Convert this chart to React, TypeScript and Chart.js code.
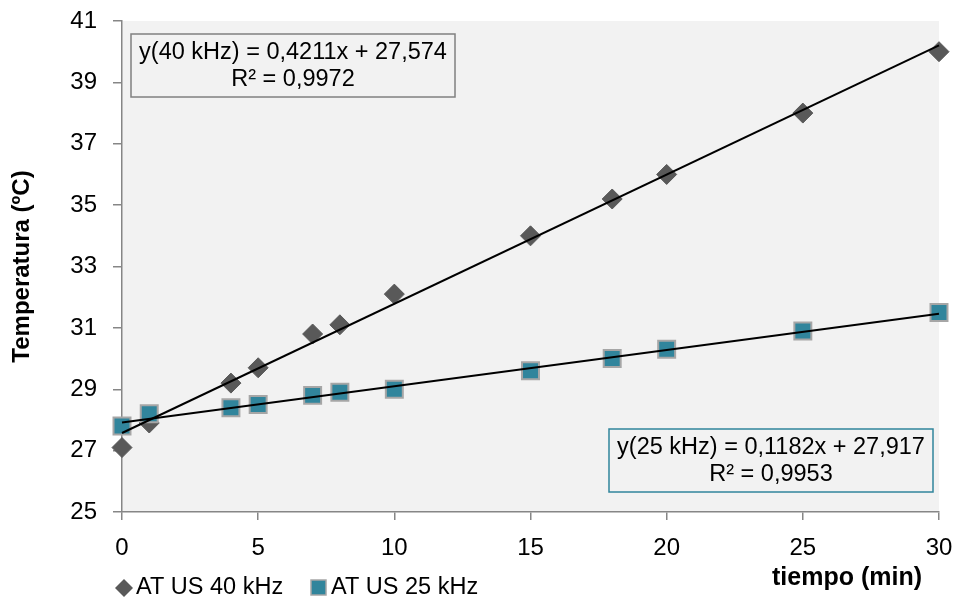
import React, { useEffect, useRef } from "react";
import { Chart, registerables } from "chart.js";

Chart.register(...registerables);

const times = [0, 1, 4, 5, 7, 8, 10, 15, 18, 20, 25, 30];
const temp40 = [27.1, 27.9, 29.2, 29.7, 30.8, 31.1, 32.1, 34.0, 35.2, 36.0, 38.0, 40.0];
const temp25 = [27.8, 28.2, 28.4, 28.5, 28.8, 28.9, 29.0, 29.6, 30.0, 30.3, 30.9, 31.5];
const seriesNames = ["AT US 40 kHz", "AT US 25 kHz"];
const trendSlopes = [0.4211, 0.1182];
const trendIntercepts = [27.574, 27.917];
const trendRange = [0, 30];
const equationLines = [
  ["y(40 kHz) = 0,4211x + 27,574", "R² = 0,9972"],
  ["y(25 kHz) = 0,1182x + 27,917", "R² = 0,9953"],
];
const yTicks = [25, 27, 29, 31, 33, 35, 37, 39, 41];
const xTicks = [0, 5, 10, 15, 20, 25, 30];

const FONT = "'Liberation Sans', Arial, sans-serif";
const DIAMOND = "#595959";
const TEAL = "#31859C";
const SQ_BORDER = "#A6A6A6";
const AXIS = "#868686";

const overlay = {
  id: "overlay",
  beforeDraw(chart: any) {
    const { ctx, chartArea: a } = chart;
    ctx.save();
    ctx.fillStyle = "#F2F2F2";
    ctx.fillRect(a.left, a.top, a.right - a.left, a.bottom - a.top);
    ctx.restore();
  },
  afterDraw(chart: any) {
    const { ctx } = chart;
    ctx.save();
    const boxes = [
      { x: 131, y: 34, w: 324, h: 63, color: "#808080" },
      { x: 609, y: 429, w: 324, h: 63, color: TEAL },
    ];
    boxes.forEach((b, i) => {
      ctx.strokeStyle = b.color;
      ctx.lineWidth = 1.5;
      ctx.strokeRect(b.x, b.y, b.w, b.h);
      ctx.fillStyle = "#000";
      ctx.font = `23.5px ${FONT}`;
      ctx.textAlign = "center";
      ctx.textBaseline = "middle";
      ctx.fillText(equationLines[i][0], b.x + b.w / 2, b.y + 19);
      ctx.fillText(equationLines[i][1], b.x + b.w / 2, b.y + 46);
    });
    ctx.font = `bold 25px ${FONT}`;
    ctx.textAlign = "right";
    ctx.textBaseline = "middle";
    ctx.fillStyle = "#000";
    ctx.fillText("tiempo (min)", 922, 578);
    const ly = 588;
    ctx.fillStyle = DIAMOND;
    ctx.beginPath();
    ctx.moveTo(124, ly - 9);
    ctx.lineTo(133, ly);
    ctx.lineTo(124, ly + 9);
    ctx.lineTo(115, ly);
    ctx.closePath();
    ctx.fill();
    ctx.fillStyle = TEAL;
    ctx.strokeStyle = SQ_BORDER;
    ctx.lineWidth = 1.5;
    ctx.fillRect(311, ly - 8, 15, 15);
    ctx.strokeRect(311, ly - 8, 15, 15);
    ctx.fillStyle = "#000";
    ctx.font = `23.5px ${FONT}`;
    ctx.textAlign = "left";
    ctx.fillText(seriesNames[0], 136, ly);
    ctx.fillText(seriesNames[1], 331, ly);
    ctx.restore();
  },
};

export default function App() {
  const ref = useRef<HTMLCanvasElement>(null);
  useEffect(() => {
    document.body.style.margin = "0";
    const trend = (i: number) =>
      trendRange.map((x) => ({ x, y: trendSlopes[i] * x + trendIntercepts[i] }));
    const chart = new Chart(ref.current!, {
      type: "scatter",
      data: {
        datasets: [
          {
            type: "line",
            label: "trend40",
            data: trend(0),
            borderColor: "#000",
            borderWidth: 2,
            pointRadius: 0,
            order: 0,
            clip: false,
          },
          {
            type: "line",
            label: "trend25",
            data: trend(1),
            borderColor: "#000",
            borderWidth: 2,
            pointRadius: 0,
            order: 0,
            clip: false,
          },
          {
            label: seriesNames[1],
            data: times.map((x, i) => ({ x, y: temp25[i] })),
            pointStyle: "rect",
            pointRadius: 12,
            backgroundColor: TEAL,
            borderColor: SQ_BORDER,
            borderWidth: 2,
            order: 1,
            clip: false,
          },
          {
            label: seriesNames[0],
            data: times.map((x, i) => ({ x, y: temp40[i] })),
            pointStyle: "rectRot",
            pointRadius: 10,
            backgroundColor: DIAMOND,
            borderColor: DIAMOND,
            borderWidth: 1,
            order: 2,
            clip: false,
          },
        ],
      },
      options: {
        animation: false,
        responsive: false,
        maintainAspectRatio: false,
        layout: { padding: { top: 21, right: 17, left: 0, bottom: 0 } },
        plugins: {
          legend: { display: false },
          tooltip: { enabled: false },
        },
        scales: {
          x: {
            type: "linear",
            min: 0,
            max: 30,
            afterBuildTicks: (s: any) => {
              s.ticks = xTicks.map((v) => ({ value: v }));
            },
            afterFit: (s: any) => {
              s.height = 89;
              s.paddingLeft = 0;
              s.paddingRight = 0;
            },
            ticks: {
              font: { family: FONT, size: 24 },
              color: "#000",
              padding: 14,
            },
            grid: { drawOnChartArea: false, drawTicks: true, tickLength: 8, color: AXIS, lineWidth: 1.5 },
            border: { color: AXIS, width: 1.5 },
          },
          y: {
            min: 25,
            max: 41,
            afterBuildTicks: (s: any) => {
              s.ticks = yTicks.map((v) => ({ value: v }));
            },
            afterFit: (s: any) => {
              s.width = 122;
              s.paddingTop = 0;
              s.paddingBottom = 0;
            },
            ticks: {
              font: { family: FONT, size: 24 },
              color: "#000",
              padding: 16,
            },
            title: {
              display: true,
              text: "Temperatura (ºC)",
              font: { family: FONT, size: 24, weight: "bold" },
              color: "#000",
              padding: { top: 8, bottom: 0 },
            },
            grid: { drawOnChartArea: false, drawTicks: true, tickLength: 9, color: AXIS, lineWidth: 1.5 },
            border: { color: AXIS, width: 1.5 },
          },
        },
      },
      plugins: [overlay],
    } as any);
    return () => chart.destroy();
  }, []);
  return (
    <div style={{ position: "absolute", left: 0, top: 0, width: 956, height: 601 }}>
      <canvas ref={ref} width={956} height={601} style={{ width: 956, height: 601 }} />
    </div>
  );
}
